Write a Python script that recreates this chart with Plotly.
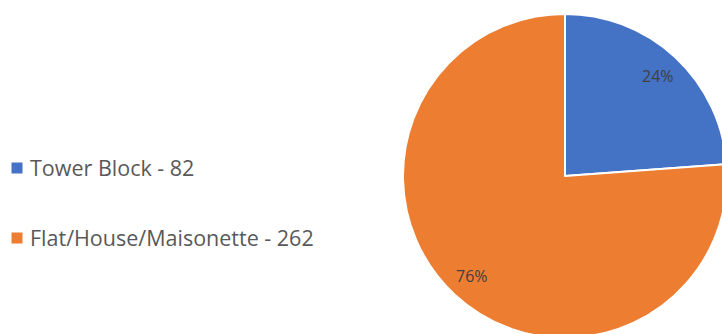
import math
import plotly.graph_objects as go

# ---- data ----
categories = ["Tower Block", "Flat/House/Maisonette"]
counts = [82, 262]
colors = ["#4472C4", "#ED7D31"]

# ---- layout constants (pixels) ----
W, H = 728, 340            # figure is a little larger than the window so the pie is clipped
PIE_LEFT, PIE_TOP, PIE_SIZE = 403, 14, 324
LEGEND_Y = [168, 238]
LEGEND_SQ_X = 17
LEGEND_TEXT_X = 28
LABEL_RADIUS = 0.84        # fraction of pie radius for the percent labels

fig = go.Figure(
    go.Pie(
        labels=categories,
        values=counts,
        sort=False,
        direction="clockwise",
        rotation=0,
        marker=dict(colors=colors, line=dict(color="white", width=2)),
        textinfo="none",
        domain=dict(
            x=[PIE_LEFT / W, (PIE_LEFT + PIE_SIZE) / W],
            y=[1 - (PIE_TOP + PIE_SIZE) / H, 1 - PIE_TOP / H],
        ),
        showlegend=False,
        hoverinfo="label+value+percent",
    )
)

annotations = []

# percent labels placed along each slice's bisector (Excel-style placement)
total = sum(counts)
cx = PIE_LEFT + PIE_SIZE / 2
cy = PIE_TOP + PIE_SIZE / 2
r = PIE_SIZE / 2 * LABEL_RADIUS
cum = 0
for cnt in counts:
    mid = (cum + cnt / 2) / total * 2 * math.pi
    cum += cnt
    px = cx + r * math.sin(mid)
    py = cy - r * math.cos(mid)
    annotations.append(dict(
        x=px / W, y=1 - py / H, xref="paper", yref="paper",
        text=f"{cnt / total:.0%}", showarrow=False,
        xanchor="center", yanchor="middle",
        font=dict(size=16, color="#404040", family="Open Sans"),
    ))

for cat, cnt, col, py in zip(categories, counts, colors, LEGEND_Y):
    # legend swatch
    annotations.append(dict(
        x=LEGEND_SQ_X / W, y=1 - py / H, xref="paper", yref="paper",
        text="", width=10, height=10, bgcolor=col, borderpad=0,
        showarrow=False, xanchor="center", yanchor="middle",
    ))
    # legend text
    annotations.append(dict(
        x=LEGEND_TEXT_X / W, y=1 - (py - 1) / H, xref="paper", yref="paper",
        text=f"{cat} - {cnt}", showarrow=False, xanchor="left", yanchor="middle",
        font=dict(size=21.5, color="#595959", family="Open Sans"),
    ))

fig.update_layout(
    width=W, height=H,
    margin=dict(l=0, r=0, t=0, b=0),
    paper_bgcolor="white",
    plot_bgcolor="white",
    annotations=annotations,
)

fig.write_html(
    "out.html",
    config={"displayModeBar": False},
    post_script=(
        "document.body.style.margin='0';"
        "document.body.style.overflow='hidden';"
        "document.documentElement.style.overflow='hidden';"
    ),
)
